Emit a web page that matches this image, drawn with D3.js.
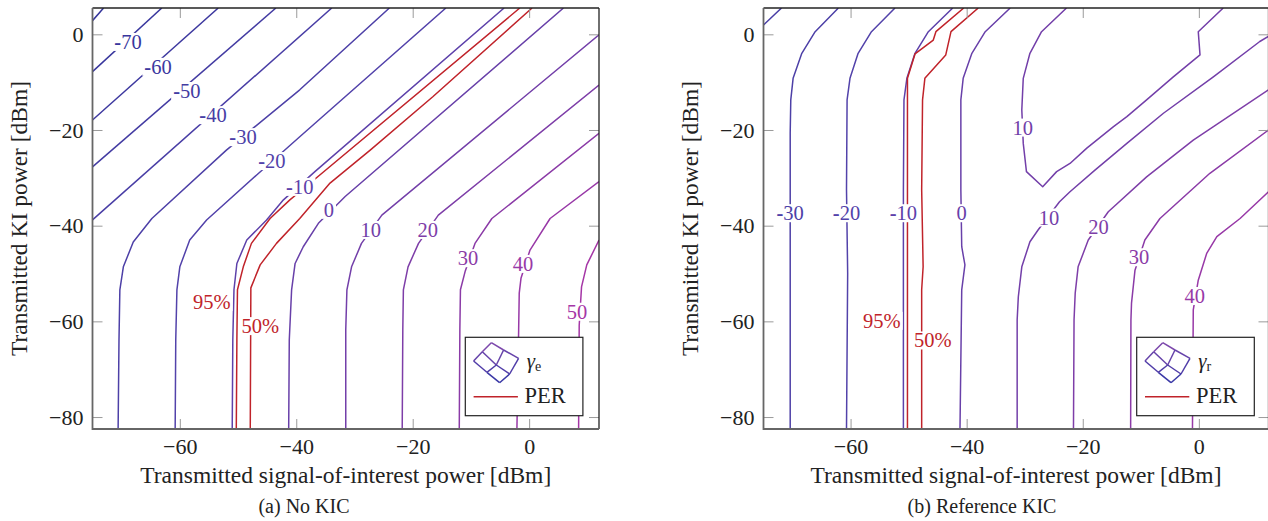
<!DOCTYPE html>
<html>
<head>
<meta charset="utf-8">
<script src="https://cdn.jsdelivr.net/npm/d3@7"></script>
<style>
  body { margin: 0; background: #fff; }
  svg text { font-family: "Liberation Serif", "DejaVu Serif", serif; }
</style>
</head>
<body>
<svg id="chart" width="1268" height="521"></svg>
<script>
// Axis ranges and ticks
const xDomain = [-75, 12];
const yDomain = [-82.5, 5.5];
const xTicks = [-60, -40, -20, 0];
const yTicks = [0, -20, -40, -60, -80];

// (a) No KIC: gamma_e contour lines, [level, [[soi dBm, ki dBm], ...]]
const contoursNoKic = [
  [-80, [[-75, 2.85], [-73.1, 5.5]]],
  [-70, [[-75, -7.8], [-63.1, 5.5]]],
  [-60, [[-75, -17.9], [-53.4, 5.5]]],
  [-50, [[-75, -27.7], [-43.5, 5.5]]],
  [-40, [[-75, -38.8], [-33.9, 5.5]]],
  [-30, [[-24.0, 5.5], [-39.4, -11.6], [-52.0, -24.2], [-64.8, -38.5], [-68.0, -43.4], [-69.7, -48.6], [-70.3, -53.4], [-70.45, -63.9], [-70.6, -82.5]]],
  [-20, [[-14.3, 5.5], [-39.4, -21.4], [-46.8, -29.4], [-55.4, -38.8], [-58.3, -43.0], [-60.0, -48.6], [-60.5, -53.4], [-60.7, -63.9], [-60.8, -82.5]]],
  [-10, [[-4.3, 5.5], [-36.8, -28.7], [-42.2, -34.6], [-45.1, -38.8], [-48.5, -43.0], [-50.2, -47.9], [-50.7, -53.4], [-50.9, -63.9], [-51.0, -82.5]]],
  [0, [[5.9, 5.5], [-31.6, -33.9], [-36.2, -39.5], [-38.8, -44.4], [-40.2, -47.9], [-40.8, -53.4], [-41.2, -63.9], [-41.3, -82.5]]],
  [10, [[12, -0.1], [-25.3, -37.8], [-28.8, -43.7], [-30.5, -48.6], [-31.3, -53.4], [-31.5, -61.8], [-31.5, -82.5]]],
  [20, [[12, -10.6], [-15.6, -37.8], [-19.0, -43.7], [-20.8, -48.6], [-21.6, -53.4], [-21.7, -61.8], [-21.8, -82.5]]],
  [30, [[12, -20.7], [-6.4, -38.5], [-9.3, -43.7], [-11.0, -49.6], [-11.8, -53.4], [-11.9, -61.8], [-12.0, -82.5]]],
  [40, [[12, -30.8], [3.6, -38.5], [0.15, -45.1], [-1.4, -51.0], [-1.7, -54.1], [-1.8, -61.8], [-2.1, -82.5]]],
  [50, [[12, -43.0], [9.9, -48.2], [9.0, -52.8], [8.6, -60.8], [8.5, -82.5]]]
];
const perNoKic95 = [[-1.6, 5.5], [-39.4, -32.9], [-41.1, -34.6], [-44.5, -38.5], [-47.7, -43.7], [-49.1, -48.6], [-50.1, -53.4], [-50.2, -63.9], [-50.3, -82.5]];
const perNoKic50 = [[0.5, 5.5], [-16.5, -13.0], [-27.3, -24.2], [-34.2, -31.1], [-39.4, -38.5], [-43.4, -43.7], [-46.2, -48.2], [-47.8, -53.0], [-47.9, -82.5]];
const labelsNoKic = [
  ["-70", -68.9, -1.6], ["-60", -63.75, -6.8], ["-50", -58.8, -11.85], ["-40", -54.3, -16.9],
  ["-30", -49.15, -21.5], ["-20", -44.2, -26.5], ["-10", -39.4, -31.9], ["0", -34.4, -36.7],
  ["10", -27.2, -40.9], ["20", -17.4, -40.9], ["30", -10.5, -46.8], ["40", -1.05, -48.0], ["50", 8.2, -58.0]
];
const perLabelsNoKic = [["95%", -54.5, -55.95], ["50%", -46.2, -61.0]];

// (b) Reference KIC: gamma_r contour lines
const contoursRefKic = [
  [-40, [[-75, 1.95], [-71.9, 5.5]]],
  [-30, [[-62.1, 5.5], [-66.1, 0.55], [-68.4, -3.97], [-69.9, -9.2], [-70.3, -13.7], [-70.4, -20.7], [-70.4, -32.5], [-70.4, -82.5]]],
  [-20, [[-52.35, 5.5], [-56.4, 0.55], [-58.7, -3.97], [-60.1, -9.2], [-60.6, -13.7], [-60.7, -32.5], [-60.5, -50], [-60.7, -82.5]]],
  [-10, [[-42.4, 5.5], [-46.6, 0.55], [-48.9, -3.97], [-50.3, -9.2], [-50.8, -13.7], [-50.9, -32.5], [-50.9, -82.5]]],
  [0, [[-32.5, 5.5], [-36.8, 0.55], [-39.1, -3.97], [-40.6, -9.2], [-41.0, -13.7], [-41.0, -32.5], [-40.85, -44.4], [-40.3, -48.2], [-40.85, -53.4], [-41.15, -82.5]]],
  [10, [[-22.8, 5.5], [-27.1, 0.55], [-29.1, -3.97], [-30.25, -9.2], [-30.5, -15.8], [-30.25, -22.8], [-29.7, -28.7], [-26.9, -31.85], [-24.5, -28.7], [-22.2, -27.0], [-19.3, -23.8], [-14.7, -19.3], [-12.4, -17.2], [-9.0, -13.7], [-4.4, -8.9], [0.2, -4.3], [-0.1, 0.55], [4.2, 5.5]]],
  [10, [[12, -0.4], [10.5, -1.5], [2.5, -8.9], [-6.1, -16.5], [-12.4, -22.8], [-17.9, -28.4], [-22.2, -32.9], [-24.0, -35.0], [-27.7, -40.9], [-29.1, -43.35], [-30.5, -48.6], [-31.1, -54.85], [-31.3, -59.7], [-31.3, -82.5]]],
  [20, [[12, -11.6], [-0.96, -22.1], [-9.0, -29.8], [-15.6, -37.1], [-19.05, -43.0], [-20.8, -48.6], [-21.3, -54.1], [-21.5, -59.7], [-21.6, -82.5]]],
  [30, [[12, -20.0], [1.9, -29.05], [-6.7, -38.5], [-9.3, -43.0], [-11.0, -49.3], [-11.6, -56.2], [-11.7, -59.7], [-11.75, -82.5]]],
  [40, [[12, -32.9], [7.1, -38.5], [3.1, -42.3], [1.35, -45.8], [-0.1, -51.4], [-0.96, -57.6], [-1.1, -82.5]]]
];
const perRefKic95 = [[-40.5, 5.5], [-45.3, 0.55], [-45.75, -1.2], [-48.9, -4.1], [-50.2, -9.2], [-50.2, -32.5], [-50.2, -82.5]];
const perRefKic50 = [[-38.0, 5.5], [-42.7, 0.55], [-43.6, -4.3], [-47.2, -9.2], [-47.6, -13.7], [-47.75, -32.5], [-47.5, -48.6], [-47.75, -53.4], [-47.75, -82.5]];
const labelsRefKic = [
  ["-30", -70.4, -37.4], ["-20", -60.7, -37.4], ["-10", -50.9, -37.4], ["0", -40.85, -37.4],
  ["10", -30.35, -19.5], ["10", -25.8, -38.3], ["20", -17.3, -40.3], ["30", -10.3, -46.6], ["40", -0.7, -54.7]
];
const perLabelsRefKic = [["95%", -54.6, -59.9], ["50%", -45.85, -64.0]];

// colours
const levelColor = d3.scaleLinear()
  .domain([-80, -20, 20, 50])
  .range(["#33339a", "#5242aa", "#7e3ea8", "#a536a6"])
  .interpolate(d3.interpolateRgb);
const perColor = "#c0232a";
const serif = '"Liberation Serif", "DejaVu Serif", serif';

const svg = d3.select("#chart");

function drawPanel(p) {
  const x = d3.scaleLinear().domain(xDomain).range([p.x0, p.x1]);
  const y = d3.scaleLinear().domain(yDomain).range([p.y1, p.y0]);
  const g = svg.append("g");

  // clip lines to the plot box
  g.append("clipPath").attr("id", p.id + "-clip")
    .append("rect")
    .attr("x", p.x0).attr("y", p.y0)
    .attr("width", p.x1 - p.x0).attr("height", p.y1 - p.y0);

  const line = d3.line().x(d => x(d[0])).y(d => y(d[1]));
  const plot = g.append("g").attr("clip-path", `url(#${p.id}-clip)`);

  plot.selectAll("path.contour")
    .data(p.contours)
    .join("path")
    .attr("class", "contour")
    .attr("d", d => line(d[1]))
    .attr("fill", "none")
    .attr("stroke", d => levelColor(d[0]))
    .attr("stroke-width", 1.5)
    .attr("stroke-linejoin", "round");

  plot.selectAll("path.per")
    .data(p.per)
    .join("path")
    .attr("class", "per")
    .attr("d", d => line(d))
    .attr("fill", "none")
    .attr("stroke", perColor)
    .attr("stroke-width", 1.5)
    .attr("stroke-linejoin", "round");

  // contour labels on white boxes that break the lines
  function addLabel(parent, text, lx, ly, color) {
    const lg = parent.append("g");
    const t = lg.append("text")
      .attr("x", x(lx)).attr("y", y(ly))
      .attr("dy", "0.34em")
      .attr("text-anchor", "middle")
      .attr("font-size", 20.5)
      .attr("fill", color);
    if (text.startsWith("-")) {
      t.append("tspan").attr("font-weight", 700).text("-");
      t.append("tspan").text(text.slice(1));
    } else {
      t.text(text);
    }
    const bb = t.node().getBBox();
    lg.insert("rect", "text")
      .attr("x", bb.x - 2).attr("y", bb.y + 2)
      .attr("width", bb.width + 4).attr("height", bb.height - 4)
      .attr("fill", "#fff");
  }
  p.labels.forEach(d => addLabel(plot, d[0], d[1], d[2], levelColor(+d[0])));
  p.perLabels.forEach(d => addLabel(plot, d[0], d[1], d[2], perColor));

  // legend
  const lgX = p.x1 - p.legendRight - 118, lgY = 337.3;
  const leg = g.append("g").attr("transform", `translate(${lgX},${lgY})`);
  leg.append("rect").attr("width", 117.6).attr("height", 78.4)
    .attr("fill", "#fff").attr("stroke", "#222").attr("stroke-width", 1.2);
  const v = [[[26, 5.4], [38.3, 12.7], [53.3, 21]],
             [[17, 14.4], [31, 27.7], [44.3, 36.7]],
             [[8.3, 23.7], [21.6, 35], [34.3, 45.4]]];
  const iconSegs = [];
  for (let r = 0; r < 3; r++) for (let c = 0; c < 2; c++) iconSegs.push([v[r][c], v[r][c + 1], r + c]);
  for (let c = 0; c < 3; c++) for (let r = 0; r < 2; r++) iconSegs.push([v[r][c], v[r + 1][c], r + c]);
  const iconColor = d3.scaleLinear().domain([0, 3]).range(["#7c48ac", "#3a38a6"]);
  leg.selectAll("line.icon").data(iconSegs).join("line")
    .attr("x1", d => d[0][0]).attr("y1", d => d[0][1])
    .attr("x2", d => d[1][0]).attr("y2", d => d[1][1])
    .attr("stroke", d => iconColor(d[2])).attr("stroke-width", 1.5);
  const gt = leg.append("text").attr("x", 61.5).attr("y", 31).attr("font-size", 21).attr("fill", "#222");
  gt.append("tspan").attr("font-style", "italic").text("γ");
  gt.append("tspan").attr("font-size", 14).attr("dy", 3).text(p.gammaSub);
  leg.append("line").attr("x1", 8.3).attr("x2", 52.6).attr("y1", 59.4).attr("y2", 59.4)
    .attr("stroke", perColor).attr("stroke-width", 1.5);
  leg.append("text").attr("x", 59.3).attr("y", 66).attr("font-size", 22.5).attr("fill", "#222").text("PER");

  // axes: inward grey ticks on all four sides
  const fmt = d => d3.format("")(d);
  const axB = g.append("g").attr("transform", `translate(0,${p.y1})`)
    .call(d3.axisBottom(x).tickValues(xTicks).tickSize(-10).tickPadding(9).tickFormat(fmt));
  const axT = g.append("g").attr("transform", `translate(0,${p.y0})`)
    .call(d3.axisTop(x).tickValues(xTicks).tickSize(-10).tickFormat(""));
  const axL = g.append("g").attr("transform", `translate(${p.x0},0)`)
    .call(d3.axisLeft(y).tickValues(yTicks).tickSize(-10).tickPadding(9).tickFormat(fmt));
  const axR = g.append("g").attr("transform", `translate(${p.x1},0)`)
    .call(d3.axisRight(y).tickValues(yTicks).tickSize(-10).tickFormat(""));
  [axB, axT, axL, axR].forEach(a => {
    a.attr("font-family", null);
    a.select(".domain").remove();
    a.selectAll(".tick line").attr("stroke", "#9a9a9a").attr("stroke-width", 1);
    a.selectAll("text").attr("font-size", 22).attr("fill", "#222");
  });

  // frame
  g.append("line").attr("x1", p.x0).attr("x2", p.x1).attr("y1", p.y0).attr("y2", p.y0)
    .attr("stroke", "#222").attr("stroke-width", 1.3);
  g.append("line").attr("x1", p.x1).attr("x2", p.x1).attr("y1", p.y0).attr("y2", p.y1)
    .attr("stroke", "#222").attr("stroke-width", 1.3);
  g.append("line").attr("x1", p.x0).attr("x2", p.x1).attr("y1", p.y1).attr("y2", p.y1)
    .attr("stroke", "#666").attr("stroke-width", 1.8);
  g.append("line").attr("x1", p.x0).attr("x2", p.x0).attr("y1", p.y0).attr("y2", p.y1 + 0.9)
    .attr("stroke", "#666").attr("stroke-width", 1.8);

  // titles
  g.append("text").attr("x", (p.x0 + p.x1) / 2).attr("y", 483)
    .attr("text-anchor", "middle").attr("font-size", 23.5).attr("fill", "#222")
    .text("Transmitted signal-of-interest power [dBm]");
  g.append("text")
    .attr("transform", `translate(${p.ylabelX},${(p.y0 + p.y1) / 2}) rotate(-90)`)
    .attr("text-anchor", "middle").attr("font-size", 23.5).attr("fill", "#222")
    .text("Transmitted KI power [dBm]");
  g.append("text").attr("x", p.captionX).attr("y", 513)
    .attr("text-anchor", "middle").attr("font-size", 20).attr("fill", "#222")
    .text(p.caption);
}

drawPanel({
  id: "a", x0: 92.5, x1: 599, y0: 8, y1: 429, legendRight: 15.7,
  contours: contoursNoKic, per: [perNoKic95, perNoKic50],
  labels: labelsNoKic, perLabels: perLabelsNoKic,
  gammaSub: "e", ylabelX: 27, captionX: 304, caption: "(a) No KIC"
});
drawPanel({
  id: "b", x0: 763.5, x1: 1268.5, y0: 8, y1: 429, legendRight: 13.8,
  contours: contoursRefKic, per: [perRefKic95, perRefKic50],
  labels: labelsRefKic, perLabels: perLabelsRefKic,
  gammaSub: "r", ylabelX: 698, captionX: 982, caption: "(b) Reference KIC"
});

// make sure every label uses the serif face
svg.selectAll("text").style("font-family", serif);
</script>
</body>
</html>
